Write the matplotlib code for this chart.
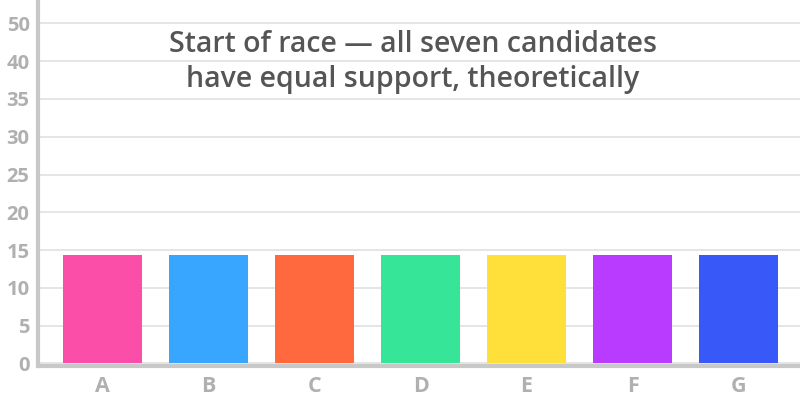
import matplotlib
matplotlib.use("Agg")
import matplotlib.pyplot as plt

categories = ["A", "B", "C", "D", "E", "F", "G"]
support = [14.29, 14.29, 14.29, 14.29, 14.29, 14.29, 14.29]
colors = ["#fa4ea8", "#38a5ff", "#ff693d", "#37e599", "#ffe03a", "#b83bff", "#3859f7"]
ytick_values = [0, 5, 10, 15, 20, 25, 30, 35, 40, 45]
ytick_labels = ["0", "5", "10", "15", "20", "25", "30", "35", "40", "50"]
title = "Start of race — all seven candidates\nhave equal support, theoretically"

W, H = 800, 408
fig = plt.figure(figsize=(W / 100, H / 100), dpi=100)
ax = fig.add_axes([38 / W, (H - 366) / H, (W - 38) / W, 366 / H])

x = list(range(len(categories)))
ax.bar(x, support, width=0.745, color=colors, zorder=3)

ax.set_xlim(-0.61, 6.58)
ax.set_ylim(-0.35, 48.1)
ax.set_xticks(x)
ax.set_xticklabels(categories)
ax.set_yticks(ytick_values)
ax.set_yticklabels(ytick_labels)

ax.grid(axis="y", color="#e0e0e0", linewidth=1.2, zorder=0)
ax.set_axisbelow(True)
for s in ["top", "right"]:
    ax.spines[s].set_visible(False)
for s in ["left", "bottom"]:
    ax.spines[s].set_color("#c8c8c8")
    ax.spines[s].set_linewidth(3)
ax.tick_params(axis="y", length=0, colors="#b0b0b0", labelsize=14.5, pad=6)
ax.tick_params(axis="x", length=0, colors="#b0b0b0", labelsize=15.5, pad=7)
for lab in ax.get_xticklabels() + ax.get_yticklabels():
    lab.set_fontfamily("Open Sans")
    lab.set_fontweight("bold")

ax.text(413 / W, (H - 62) / H, title, transform=fig.transFigure, ha="center",
        va="center", fontsize=20.5, color="#555555", fontfamily="Open Sans",
        fontweight="semibold", linespacing=1.3)

fig.savefig("out.png", dpi=100)
